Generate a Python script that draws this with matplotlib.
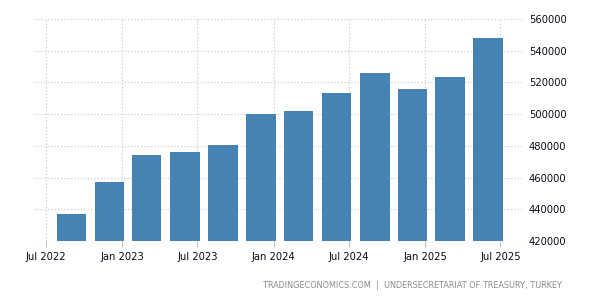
import matplotlib
matplotlib.use("Agg")
import matplotlib.pyplot as plt
import datetime as dt

dates = ["2022-09-01", "2022-12-01", "2023-03-01", "2023-06-01", "2023-09-01", "2023-12-01",
         "2024-03-01", "2024-06-01", "2024-09-01", "2024-12-01", "2025-03-01", "2025-06-01"]
values = [437000, 457200, 474200, 476100, 480500, 500100,
          502000, 513300, 525900, 515900, 523400, 548000]
xtick_dates = ["2022-07-01", "2023-01-01", "2023-07-01", "2024-01-01", "2024-07-01", "2025-01-01", "2025-07-01"]
xtick_labels = ["Jul 2022", "Jan 2023", "Jul 2023", "Jan 2024", "Jul 2024", "Jan 2025", "Jul 2025"]
yticks = [420000, 440000, 460000, 480000, 500000, 520000, 540000, 560000]

to_d = lambda s: dt.datetime.strptime(s, "%Y-%m-%d")
x = [to_d(d) for d in dates]

fig = plt.figure(figsize=(6, 3), dpi=100)
ax = fig.add_axes([34/600, 1-241/300, (522-34)/600, (241-19)/300])
ax.bar(x, [v - 420000 for v in values], bottom=420000, width=71, color="#4682B4", zorder=3)
ax.set_ylim(420000, 560000)
ax.set_xlim(to_d("2022-06-02"), to_d("2025-08-22"))
ax.set_yticks(yticks)
ax.set_yticklabels([str(v) for v in yticks])
ax.yaxis.tick_right()
ax.set_xticks([to_d(d) for d in xtick_dates])
ax.set_xticklabels(xtick_labels)
ax.grid(True, linestyle=(0, (1, 2)), color="#c0c0c0", linewidth=0.8, zorder=0)
for s in ax.spines.values():
    s.set_visible(False)
ax.tick_params(axis="y", length=0, pad=5, labelsize=7.2, colors="#0a0a1a")
ax.tick_params(axis="x", length=4, color="#c0c0c0", pad=4, labelsize=7.2, labelcolor="#0a0a1a")
fig.text(562/600, 1-286/300, "TRADINGECONOMICS.COM  |  UNDERSECRETARIAT OF TREASURY, TURKEY",
         ha="right", va="center", fontsize=5.9, color="#8a8a8a")
fig.savefig("out.png", dpi=100)
